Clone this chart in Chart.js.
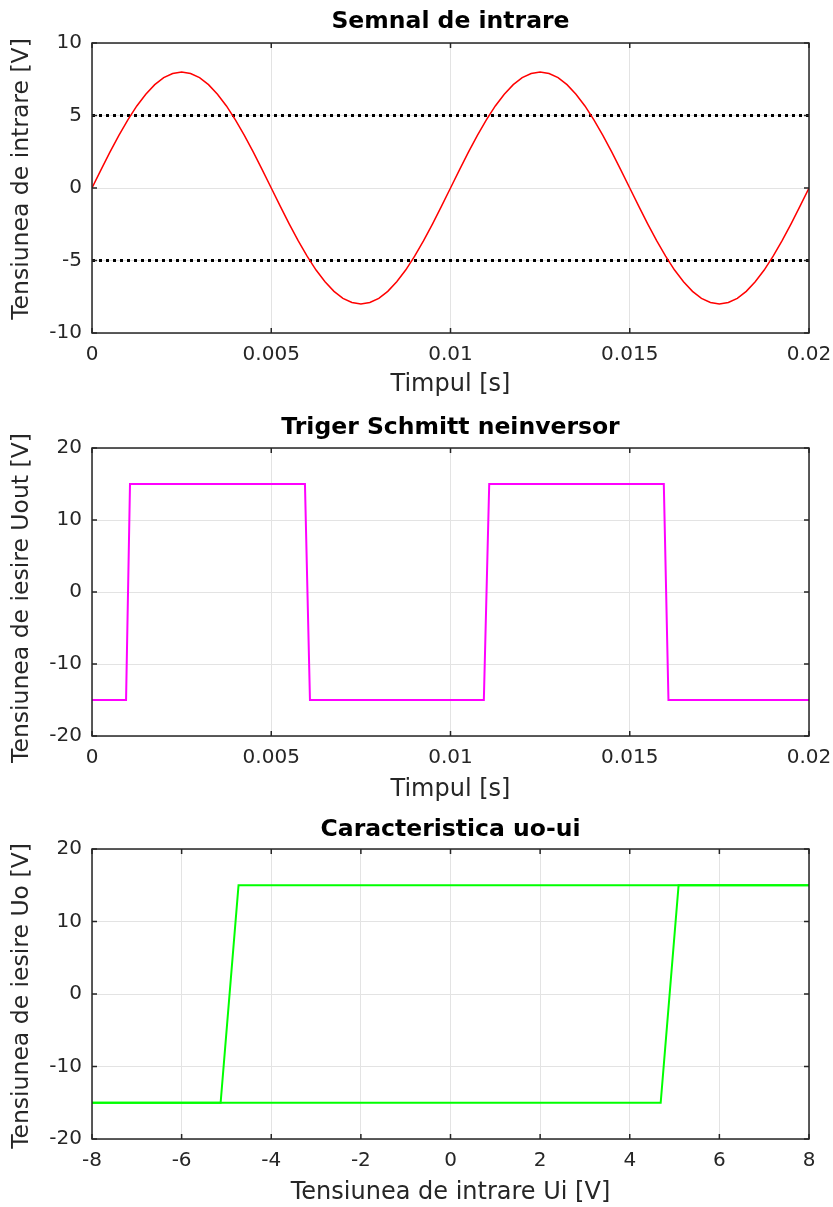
<!DOCTYPE html>
<html>
<head>
<meta charset="utf-8">
<script src="https://cdn.jsdelivr.net/npm/chart.js@4.4.1/dist/chart.umd.min.js"></script>
<style>
  body { margin: 0; background: #fff; }
  #wrap { position: relative; width: 833px; height: 1207px; }
  canvas { position: absolute; left: 0; }
</style>
</head>
<body>
<div id="wrap">
  <canvas id="inputChart" width="833" height="403" style="top:0px"></canvas>
  <canvas id="schmittChart" width="833" height="403" style="top:403px"></canvas>
  <canvas id="transferChart" width="833" height="401" style="top:806px"></canvas>
</div>
<script>
// input signal
var timeIn = [0, 0.00025, 0.0005, 0.00075, 0.001, 0.00125, 0.0015, 0.00175, 0.002, 0.00225,
  0.0025, 0.00275, 0.003, 0.00325, 0.0035, 0.00375, 0.004, 0.00425, 0.0045, 0.00475,
  0.005, 0.00525, 0.0055, 0.00575, 0.006, 0.00625, 0.0065, 0.00675, 0.007, 0.00725,
  0.0075, 0.00775, 0.008, 0.00825, 0.0085, 0.00875, 0.009, 0.00925, 0.0095, 0.00975,
  0.01, 0.01025, 0.0105, 0.01075, 0.011, 0.01125, 0.0115, 0.01175, 0.012, 0.01225,
  0.0125, 0.01275, 0.013, 0.01325, 0.0135, 0.01375, 0.014, 0.01425, 0.0145, 0.01475,
  0.015, 0.01525, 0.0155, 0.01575, 0.016, 0.01625, 0.0165, 0.01675, 0.017, 0.01725,
  0.0175, 0.01775, 0.018, 0.01825, 0.0185, 0.01875, 0.019, 0.01925, 0.0195, 0.01975, 0.02];
var uIn = [0, 1.25, 2.47, 3.63, 4.70, 5.66, 6.47, 7.13, 7.61, 7.90,
  8, 7.90, 7.61, 7.13, 6.47, 5.66, 4.70, 3.63, 2.47, 1.25,
  0, -1.25, -2.47, -3.63, -4.70, -5.66, -6.47, -7.13, -7.61, -7.90,
  -8, -7.90, -7.61, -7.13, -6.47, -5.66, -4.70, -3.63, -2.47, -1.25,
  0, 1.25, 2.47, 3.63, 4.70, 5.66, 6.47, 7.13, 7.61, 7.90,
  8, 7.90, 7.61, 7.13, 6.47, 5.66, 4.70, 3.63, 2.47, 1.25,
  0, -1.25, -2.47, -3.63, -4.70, -5.66, -6.47, -7.13, -7.61, -7.90,
  -8, -7.90, -7.61, -7.13, -6.47, -5.66, -4.70, -3.63, -2.47, -1.25, 0];
var thresholdUp = 5;
var thresholdDown = -5;

// trigger output
var timeOut = [0, 0.00095, 0.00106, 0.00594, 0.00608, 0.01093, 0.01108, 0.01595, 0.01608, 0.02];
var uOut = [-15, -15, 15, 15, -15, -15, 15, 15, -15, -15];

// uo-ui characteristic
var uiRise = [-8, 4.69, 5.09, 8];
var uoRise = [-15, -15, 15, 15];
var uiFall = [8, -4.73, -5.13, -8];
var uoFall = [15, 15, -15, -15];

// ticks
var timeTicks = [0, 0.005, 0.01, 0.015, 0.02];
var uInTicks = [-10, -5, 0, 5, 10];
var uOutTicks = [-20, -10, 0, 10, 20];
var uiTicks = [-8, -6, -4, -2, 0, 2, 4, 6, 8];

var FONT = "'DejaVu Sans', sans-serif";
var AXIS = "#262626";

function pts(xs, ys) {
  return xs.map(function (x, i) { return { x: x, y: ys[i] }; });
}

// box + inward tick marks like octave, title and ylabel placed by hand
var framePlugin = {
  id: "frame",
  afterDatasetsDraw: function (chart, args, opts) {
    var ctx = chart.ctx, a = chart.chartArea;
    var xs = chart.scales.x, ys = chart.scales.y;
    ctx.save();
    ctx.strokeStyle = AXIS;
    ctx.lineWidth = 1.5;
    ctx.strokeRect(a.left, a.top, a.right - a.left, a.bottom - a.top);
    ctx.beginPath();
    xs.ticks.forEach(function (t) {
      var px = xs.getPixelForValue(t.value);
      ctx.moveTo(px, a.bottom); ctx.lineTo(px, a.bottom - 5);
      ctx.moveTo(px, a.top); ctx.lineTo(px, a.top + 5);
    });
    ys.ticks.forEach(function (t) {
      var py = ys.getPixelForValue(t.value);
      ctx.moveTo(a.left, py); ctx.lineTo(a.left + 5, py);
      ctx.moveTo(a.right, py); ctx.lineTo(a.right - 5, py);
    });
    ctx.stroke();

    ctx.textAlign = "center";
    ctx.textBaseline = "middle";
    ctx.fillStyle = "#000";
    ctx.font = "bold 23.5px " + FONT;
    ctx.fillText(opts.title, (a.left + a.right) / 2, opts.titleMid);

    ctx.fillStyle = AXIS;
    ctx.font = "23.5px " + FONT;
    ctx.translate(22, (a.top + a.bottom) / 2 + opts.yTitleShift);
    ctx.rotate(-Math.PI / 2);
    ctx.fillText(opts.yTitle, 0, 0);
    ctx.restore();
  }
};

function makePlot(id, o) {
  return new Chart(document.getElementById(id).getContext("2d"), {
    type: "line",
    data: { datasets: o.datasets },
    plugins: [framePlugin],
    options: {
      responsive: false,
      animation: false,
      layout: { padding: { left: 0, right: 24, top: o.areaTop, bottom: 0 } },
      elements: { point: { radius: 0 }, line: { tension: 0 } },
      plugins: {
        legend: { display: false },
        tooltip: { enabled: false },
        title: { display: false },
        frame: { title: o.title, titleMid: o.titleMid, yTitle: o.yTitle, yTitleShift: o.yTitleShift }
      },
      scales: {
        x: {
          type: "linear",
          min: o.xTicks[0],
          max: o.xTicks[o.xTicks.length - 1],
          afterBuildTicks: function (s) { s.ticks = o.xTicks.map(function (v) { return { value: v }; }); },
          afterFit: function (s) { s.height = o.canvasH - o.areaBottom; s.paddingLeft = 0; s.paddingRight = 0; },
          grid: { color: "#e3e3e3", drawTicks: false },
          border: { display: false },
          ticks: { color: AXIS, padding: 10, maxRotation: 0, autoSkip: false, font: { family: FONT, size: 20 },
            callback: function (v) { return String(v); } },
          title: { display: true, text: o.xTitle, color: AXIS, font: { family: FONT, size: 24 },
            padding: { top: 0, bottom: o.canvasH - o.xTitleMid - 14.4 } }
        },
        y: {
          type: "linear",
          min: o.yTicks[0],
          max: o.yTicks[o.yTicks.length - 1],
          afterBuildTicks: function (s) { s.ticks = o.yTicks.map(function (v) { return { value: v }; }); },
          afterFit: function (s) { s.width = 92; s.paddingTop = 0; s.paddingBottom = 0; },
          grid: { color: "#e3e3e3", drawTicks: false },
          border: { display: false },
          ticks: { color: AXIS, padding: 10, font: { family: FONT, size: 20 },
            callback: function (v) { return String(v); } },
          title: { display: false }
        }
      }
    }
  });
}

makePlot("inputChart", {
  title: "Semnal de intrare",
  xTitle: "Timpul [s]",
  yTitle: "Tensiunea de intrare [V]",
  xTicks: timeTicks, yTicks: uInTicks,
  canvasH: 403, areaTop: 43, areaBottom: 333, titleMid: 22, xTitleMid: 385, yTitleShift: -9,
  datasets: [
    { data: pts(timeIn, uIn), borderColor: "#ff0000", borderWidth: 1.5 },
    { data: pts([0, 0.02], [thresholdUp, thresholdUp]), borderColor: "#000", borderWidth: 3, borderDash: [3, 4] },
    { data: pts([0, 0.02], [thresholdDown, thresholdDown]), borderColor: "#000", borderWidth: 3, borderDash: [3, 4] }
  ]
});

makePlot("schmittChart", {
  title: "Triger Schmitt neinversor",
  xTitle: "Timpul [s]",
  yTitle: "Tensiunea de iesire Uout [V]",
  xTicks: timeTicks, yTicks: uOutTicks,
  canvasH: 403, areaTop: 45, areaBottom: 333, titleMid: 25, xTitleMid: 387, yTitleShift: 6,
  datasets: [
    { data: pts(timeOut, uOut), borderColor: "#ff00ff", borderWidth: 2 }
  ]
});

makePlot("transferChart", {
  title: "Caracteristica uo-ui",
  xTitle: "Tensiunea de intrare Ui [V]",
  yTitle: "Tensiunea de iesire Uo [V]",
  xTicks: uiTicks, yTicks: uOutTicks,
  canvasH: 401, areaTop: 43, areaBottom: 333, titleMid: 24, xTitleMid: 387, yTitleShift: 2,
  datasets: [
    { data: pts(uiRise, uoRise), borderColor: "#00ff00", borderWidth: 2 },
    { data: pts(uiFall, uoFall), borderColor: "#00ff00", borderWidth: 2 }
  ]
});
</script>
</body>
</html>
